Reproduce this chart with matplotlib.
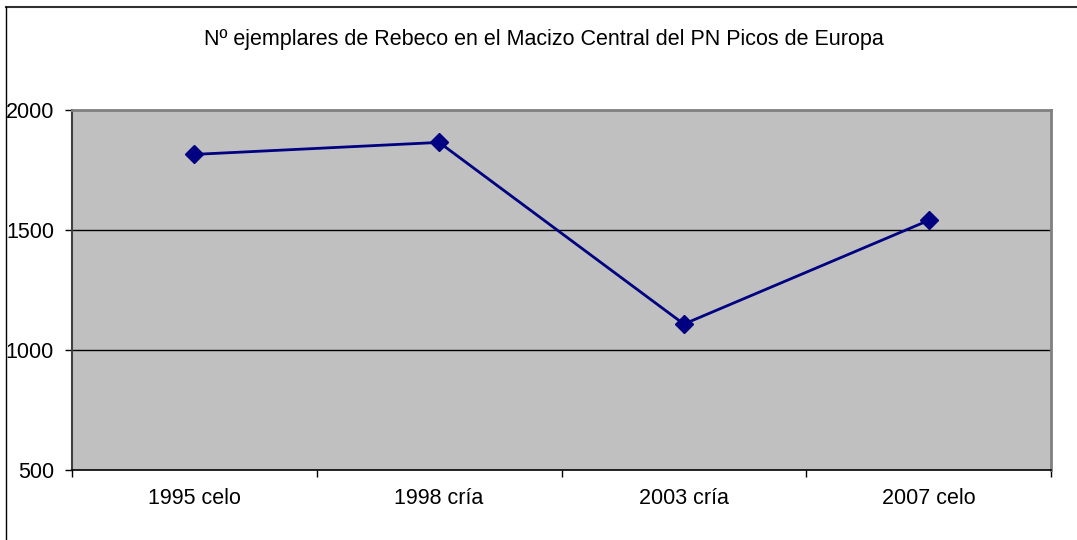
from matplotlib import pyplot as plt
from matplotlib.lines import Line2D
import numpy as np

plt.rcParams['font.family'] = ['Liberation Sans', 'DejaVu Sans']

# datos del censo
censos = ['1995 celo', '1998 cría', '2003 cría', '2007 celo']
ejemplares = [1815, 1865, 1108, 1540]
y_ticks = [500, 1000, 1500, 2000]
titulo = 'Nº ejemplares de Rebeco en el Macizo Central del PN Picos de Europa'

fig = plt.figure(figsize=(10.77, 5.4), dpi=100)
ax = fig.add_axes([72 / 1077, 1 - 470 / 540, (1051 - 72) / 1077, 360 / 540])
ax.set_facecolor('#C0C0C0')

x = np.arange(len(censos))
ax.plot(x, ejemplares, color='#000080', linewidth=2, marker='D',
        markersize=9.5, markerfacecolor='#000080', markeredgecolor='#000080',
        zorder=3)

ax.set_xlim(-0.5, len(censos) - 0.5)
ax.set_ylim(500, 2000)
ax.set_yticks(y_ticks)
ax.set_yticklabels([str(v) for v in y_ticks])
ax.set_xticks(x)
ax.set_xticklabels(censos)
ax.set_xticks(np.arange(-0.5, len(censos)), minor=True)

# lineas de division horizontales
for v in y_ticks[1:-1]:
    ax.axhline(v, color='black', linewidth=1, zorder=1)

ax.tick_params(axis='x', which='major', length=0, pad=13, labelsize=15.5)
ax.tick_params(axis='x', which='minor', length=5, width=1, direction='out')
ax.tick_params(axis='y', length=5, width=1, direction='out', pad=8,
               labelsize=15.5)

ax.spines['top'].set_color('#808080')
ax.spines['top'].set_linewidth(2)
ax.spines['right'].set_color('#808080')
ax.spines['right'].set_linewidth(2)
ax.spines['left'].set_color('#404040')
ax.spines['left'].set_linewidth(1.5)
ax.spines['bottom'].set_color('black')
ax.spines['bottom'].set_linewidth(1.2)

fig.text(544 / 1077, 1 - 40 / 540, titulo, ha='center', va='center',
         fontsize=15.5)

# borde del grafico (recortado abajo y a la derecha)
fig.add_artist(Line2D([5.5 / 1077, 1], [1 - 6.5 / 540, 1 - 6.5 / 540],
                      transform=fig.transFigure, color='#303030', linewidth=1.5))
fig.add_artist(Line2D([5.5 / 1077, 5.5 / 1077], [0, 1 - 6.5 / 540],
                      transform=fig.transFigure, color='black', linewidth=1))

plt.savefig('out.png', dpi=100)
